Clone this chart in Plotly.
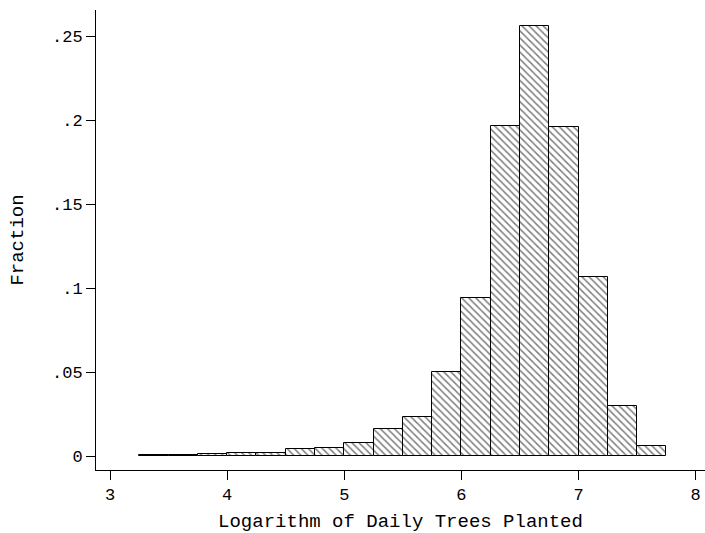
import plotly.graph_objects as go

bin_left = [3.25, 3.5, 3.75, 4.0, 4.25, 4.5, 4.75, 5.0, 5.25, 5.5, 5.75, 6.0, 6.25, 6.5, 6.75, 7.0, 7.25, 7.5]
fraction = [0.0005, 0.0005, 0.001, 0.0015, 0.0015, 0.0042, 0.005, 0.0076, 0.0163, 0.0234, 0.050, 0.0942, 0.1962, 0.256, 0.1958, 0.1067, 0.0298, 0.006]
bin_width = 0.25

x_ticks = [3, 4, 5, 6, 7, 8]
y_ticks = [0, 0.05, 0.1, 0.15, 0.2, 0.25]
y_tick_labels = ["0", ".05", ".1", ".15", ".2", ".25"]

centers = [b + bin_width / 2 for b in bin_left]

FAM = "Liberation Mono"
font = dict(family=FAM, size=17, color="black")

fig = go.Figure(go.Bar(
    x=centers, y=fraction, width=[bin_width] * len(centers),
    marker=dict(
        color="white",
        line=dict(color="black", width=1),
        pattern=dict(shape="\\", size=5, solidity=0.3, fgcolor="black", bgcolor="white", fillmode="overlay"),
    ),
    hoverinfo="x+y",
))

fig.update_layout(
    width=705, height=533,
    margin=dict(l=96, r=0, t=10, b=63),
    paper_bgcolor="white", plot_bgcolor="white",
    bargap=0, showlegend=False, font=font,
)
fig.update_xaxes(
    range=[2.88, 8.08], tickvals=x_ticks, ticks="outside", ticklen=9, tickcolor="black",
    showline=True, linecolor="black", linewidth=1, showgrid=False, zeroline=False,
    title=dict(text="Logarithm of Daily Trees Planted", font=dict(family=FAM, size=19), standoff=14),
    tickfont=dict(family=FAM, size=17),
)
fig.update_yaxes(
    range=[-0.00833, 0.2655], tickvals=y_ticks, ticktext=y_tick_labels, ticks="outside", ticklen=9,
    tickcolor="black", showline=True, linecolor="black", linewidth=1, showgrid=False, zeroline=False,
    title=dict(text="Fraction", font=dict(family=FAM, size=19), standoff=23),
    tickfont=dict(family=FAM, size=17),
)

fig.write_html("out.html")
